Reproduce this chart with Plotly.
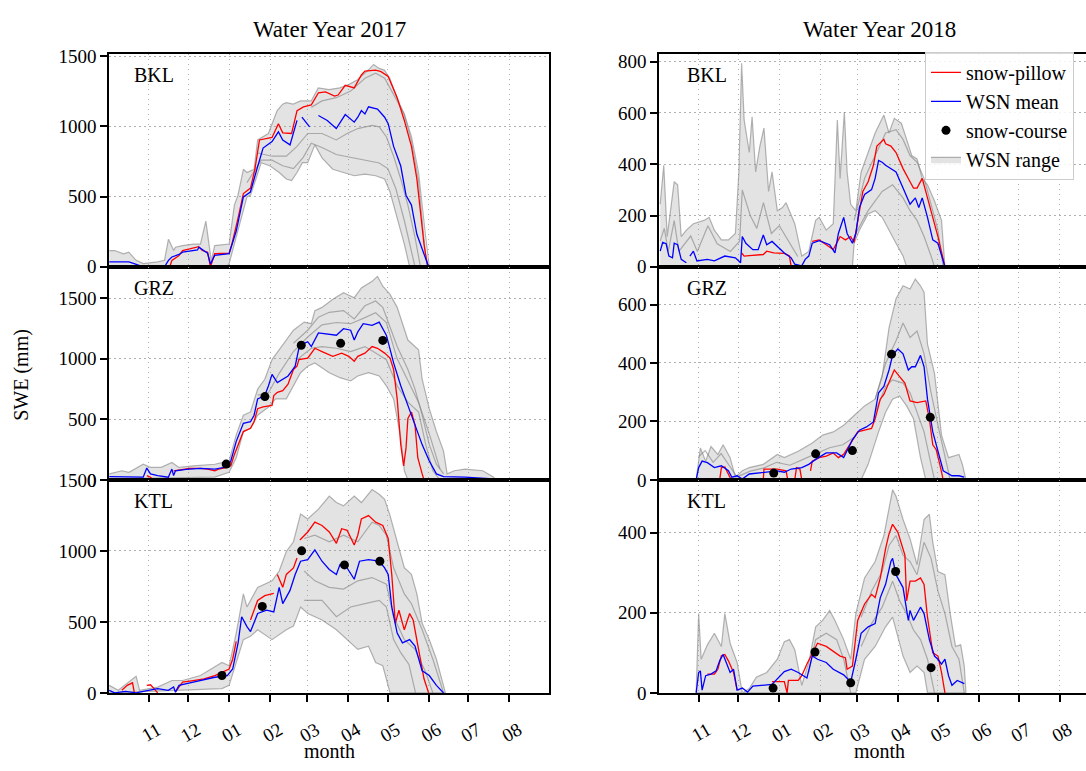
import plotly.graph_objects as go
import pandas as pd

# ---------------- data: (day of water year, SWE mm) ----------------
MONTH_TICKS = ["11", "12", "01", "02", "03", "04", "05", "06", "07", "08"]
STATIONS = ["BKL", "GRZ", "KTL"]
YEARS = ["Water Year 2017", "Water Year 2018"]

# ---- Water Year 2017 ----
BKL17_RED = [(47,0),(48.6,46),(54,81),(56.7,116),(62,127),(68.9,144),(71.6,116),(75.6,104),(77.8,0),(81,93),(91.9,97),(94,162),(98.7,348),(102.7,522),(108.1,561),(111.4,695),(114.9,904),(124.4,922),(129.2,1020),(132.5,955),(139.2,950),(143.3,1113),(148.2,1140),(154.1,1154),(159.5,1240),(164.9,1247),(171.7,1217),(174.4,1224),(179.8,1293),(186.6,1275),(192,1367),(194.7,1395),(202.8,1402),(206.9,1391),(212.3,1356),(219.1,1205),(224.5,1043),(229.9,858),(234,626),(236.7,394),(239.4,162),(242.1,0)]
BKL17_BLUE = [(1.2,35),(16,35),(20,23),(27,0),(43,0),(46,46),(48.6,70),(54,88),(56.7,104),(68,120),(69,139),(75.6,97),(77.8,20),(81,81),(91.9,93),(97.3,255),(102.7,498),(108,533),(112.2,672),(117.6,846),(124.4,892),(129.2,962),(132.5,904),(138,869),(143.3,1043),None,(147,1066),(152.8,997),None,(159.5,1078),(166.2,1043),(173,985),(179.8,1085),(186.6,1031),(189.3,1066),(192,1113),(194.7,1089),(197.4,1140),(204.2,1124),(209.6,1066),(212.3,1020),(216.4,858),(221.8,718),(225.8,510),(229.9,440),(234,232),(236.6,162),(240.7,46),(242.9,0)]
BKL17_HI = [(1.2,116),(5.3,116),(12,93),(16,104),(21.5,46),(27,23),(37.8,35),(43,46),(46,197),(50,116),(51.3,140),(56.7,151),(64.8,162),(70.2,162),(74.3,325),(78.4,42),(81,151),(91.9,162),(95.9,440),(98.6,510),(102.7,695),(105.4,672),(110.8,695),(113.5,904),(121.6,950),(128.3,1113),(132.4,1159),(135.1,1170),(140.5,1159),(145.9,1182),(154,1182),(159.4,1275),(167.5,1263),(175.6,1275),(182.4,1298),(189.1,1333),(197.2,1402),(201.3,1442),(205.4,1414),(209.4,1402),(213.5,1344),(218.9,1205),(224.3,1089),(229.7,904),(235.1,626),(237.8,348),(240.5,93),(242.7,0)]
BKL17_LO = [(1.2,0),(90,0),(91.9,23),(95.9,162),(100,300),(105.4,498),(108.1,510),(112.2,626),(116.2,742),(123,718),(129.8,672),(135.2,626),(139.2,614),(143.3,672),(147.4,742),(151.4,742),(156.8,869),(162.2,776),(170.3,695),(178.4,672),(186.6,649),(194.7,660),(202.8,649),(209.6,626),(213.7,533),(219.1,348),(224.5,162),(228.5,0),(242.7,0)]
BKL17_G1 = [(113.5,811),(124.4,788),(135.2,788),(143.3,858),(151.4,950),(162.2,950),(173,904),(181.2,950),(189.3,985),(200.1,1008),(205.5,997),(210.9,927),(216.4,788),(221.8,626),(227.2,440),(232.6,209),(236.7,0)]
BKL17_G2 = [(154.1,1136),(162.2,1182),(173,1205),(183.9,1252),(194.7,1344),(202.8,1379),(209.6,1344),(216.4,1228),(224.5,1089),(229.9,927),(235.3,672),(240.7,209),(243.4,0)]
BKL17_G3 = [(105.4,600),(116.2,760),(124.4,760),(132.5,720),(140.6,700),(148,780),(154.1,880),(162.2,850),(173,800),(183.9,780),(194.7,760),(205.5,740),(212,700),(218,560),(224.5,330),(229.9,120),(232.6,0)]
BKL17_DOTS = []

GRZ17_RED = [(29.6,35),(32.4,22),(33.7,8),None,(49.9,75),(56.7,89),(62.1,94),(70.2,94),(75.6,89),(81.1,75),(83.8,89),(90.5,103),(93.2,116),(95.9,210),(100,332),(102.7,399),(108.1,426),(110.8,480),(113.5,588),(117.6,602),(124.4,615),(125.7,696),(128.4,723),(132.5,737),(136.5,790),(140.6,912),(143.3,939),(144.7,993),(151.4,1006),(156.8,1087),(162.2,1060),(170.4,1020),(177.1,1047),(182.5,1020),(186.6,979),(189.3,1020),(194.7,1047),(200.1,1101),(204.2,1087),(209.6,1047),(213.7,1006),(216.4,912),(219.1,669),(221.8,291),(224,116),(225.8,264),(227.2,507),(229.9,561),(232.6,453),(234.7,183),(238,49),(239.4,0)]
GRZ17_BLUE = [(1.2,27),(16.1,22),(26.9,22),(29.6,97),(32.4,49),(37.8,35),(45.9,22),(48.6,89),(49.9,35),(51.3,75),(59.4,86),(70.2,94),(81.1,89),(90.5,108),(93.2,156),(97.3,318),(102.7,467),(108.1,480),(110.8,534),(113.5,669),(118.9,696),(121.7,777),(124.4,871),(128.4,804),(132.5,831),(136.5,858),(139.2,898),(141.9,939),(144.7,1087),(148.7,1128),(151.4,1141),(154.1,1101),(159.5,1214),(167.7,1203),(173.1,1195),(178.5,1249),(183.9,1236),(186.6,1155),(189.3,1222),(193.4,1290),(200.1,1276),(205.5,1303),(210.9,1195),(216.4,966),(221.8,777),(227.2,615),(232.6,453),(238,291),(243.4,156),(248.8,49),(254.2,27),(270.4,22),(292.1,8)]
GRZ17_HI = [(1.2,49),(10.7,75),(16.1,62),(26.9,129),(32.4,103),(40.5,103),(48.6,143),(54,103),(64.8,116),(81.1,129),(91.9,156),(97.3,372),(102.7,534),(108.1,561),(113.5,750),(118.9,831),(124.4,993),(129.8,1074),(135.2,1155),(140.6,1236),(148.7,1303),(154.1,1290),(156.8,1398),(162.2,1425),(170.4,1492),(178.5,1546),(186.6,1505),(192,1586),(200.1,1640),(204.2,1681),(208.2,1600),(213.7,1532),(219.1,1425),(227.2,1155),(235.3,1074),(238,831),(243.4,588),(248.8,399),(254.2,237),(256.9,49),(262.3,75),(270.4,89),(283.9,75),(292.1,22),(293,0)]
GRZ17_LO = [(1.2,8),(81.1,22),(91.9,62),(97.3,183),(102.7,399),(108.1,426),(113.5,534),(121.7,602),(127.1,669),(135.2,669),(140.6,777),(146,885),(151.4,939),(156.8,966),(167.7,885),(175.8,844),(183.9,817),(189.3,858),(197.4,885),(205.5,858),(210.9,777),(216.4,669),(221.8,345),(224.5,75),(227.2,0),(293,0)]
GRZ17_G1 = [(140.6,1128),(151.4,1236),(159.5,1344),(167.7,1384),(178.5,1398),(186.6,1330),(194.7,1438),(202.8,1478),(208.2,1425),(213.7,1263),(219.1,1101),(227.2,912),(232.6,750),(238,534),(243.4,291),(248.8,129),(254.2,49)]
GRZ17_G2 = [(143.3,993),(154.1,1087),(162.2,1101),(173.1,1087),(183.9,1060),(194.7,1101),(202.8,1047),(210.9,993),(219.1,777),(227.2,642),(235.3,561),(240.7,291),(246.1,75),(251.5,0)]
GRZ17_G3 = [(113.5,700),(121.7,720),(129.8,880),(140.6,1060),(151.4,1180),(162.2,1280),(173.1,1300),(183.9,1290),(194.7,1340),(202.8,1380),(210.9,1300),(219.1,1000),(227.2,820),(235.3,640),(243.4,380),(251.5,90)]
GRZ17_DOTS = [(89.7,130),(119,688),(146.5,1112),(176.3,1128),(208.2,1152)]

KTL17_RED = [(10.7,18),(14.8,53),(18.8,71),(20.2,0),None,(29.6,53),(32.4,57),(35.1,30),(37.8,0),None,(51.3,7),(56.7,76),(64.8,87),(72.9,99),(81.1,122),(86.5,145),(91.9,168),(94.6,237),(97.3,363),None,(108.1,513),(113.5,651),(118.9,685),(125.7,701),None,(128.4,834),(132.5,743),(135.2,834),(140.6,880),(143.3,949),None,(145.5,1076),(151.4,1133),(156.8,1202),(162.2,1179),(167.7,1133),(173.1,1053),(177.1,1156),(181.2,1145),(186.6,1041),(189.3,1110),(192,1225),(197.4,1248),(202.8,1202),(208.2,1179),(212.3,1087),(215,834),(217.7,490),(220.4,582),(224.5,444),(228.5,559),(231.2,513),(235.3,306),(239.4,99),(242.9,0)]
KTL17_BLUE = [(1.2,18),(5.3,0),(13.4,11),(21.5,0),(26.9,11),(32.4,18),(37.8,30),(45.9,18),(49.9,41),(51.3,5),(54,53),(64.8,76),(75.6,99),(81.1,110),(90.5,122),(94.6,168),(98.7,352),(101.4,536),(105.4,467),(108.1,432),(113.5,559),(120.3,582),(125.7,570),(129.8,743),(132.5,628),(137.9,720),(141.9,834),(146,927),(151.4,938),(156.8,1007),(162.2,927),(167.7,869),(173.1,834),(175.8,903),(181.2,880),(186.6,800),(190.6,927),(197.4,938),(205.5,927),(209.6,880),(212.3,834),(215,605),(219.1,421),(223.1,352),(228.5,375),(232.6,329),(238,156),(243.4,122),(248.8,53),(254.2,0)]
KTL17_HI = [(1.2,53),(8,18),(21.5,117),(24.2,18),(37.8,41),(48.6,87),(56.7,87),(70.2,122),(86.5,214),(91.9,191),(97.3,421),(102.7,697),(105.4,605),(113.5,743),(124.4,789),(129.8,858),(135.2,996),(140.6,1064),(146,1260),(151.4,1225),(159.5,1294),(167.7,1386),(173.1,1340),(178.5,1317),(186.6,1386),(192,1340),(200.1,1432),(205.5,1398),(209.6,1363),(213.7,1248),(219.1,1064),(224.5,881),(229.9,835),(234,697),(238,490),(243.4,375),(248.8,237),(254.2,53),(255.6,0)]
KTL17_LO = [(1.2,0),(86.5,30),(91.9,53),(97.3,214),(102.7,375),(108.1,398),(113.5,444),(124.4,375),(135.2,444),(140.6,470),(146,605),(151.4,559),(162.2,513),(173.1,444),(181.2,375),(189.3,306),(197.4,329),(202.8,214),(208.2,191),(213.7,0),(255.6,0)]
KTL17_G1 = [(148.7,1087),(156.8,1110),(167.7,1064),(178.5,1110),(189.3,1064),(200.1,1202),(205.5,1179),(210.9,1110),(216.4,881),(224.5,697),(229.9,628),(238,444),(246.1,237),(251.5,76),(254.2,0)]
KTL17_G2 = [(148.7,858),(156.8,789),(167.7,743),(178.5,731),(189.3,789),(200.1,812),(210.9,766),(216.4,536),(224.5,375),(232.6,306),(240.7,145),(246.1,0)]
KTL17_G3 = [(148.7,651),(162.2,651),(173.1,536),(183.9,605),(194.7,628),(205.5,651),(210.9,605),(216.4,375),(221.8,283),(228,200),(233,0)]
KTL17_DOTS = [(86.5,122),(117,609),(146.8,1000),(179.2,901),(206,927)]

# ---- Water Year 2018 ----
BKL18_RED = [(63.5,54),(65.4,42),(69.3,44),(79.9,48),(82.5,61),(87.8,54),(95.8,52),(99.7,42),(101,0),None,(116.9,99),(122.2,105),(127.5,86),(132.8,67),(135.4,92),(138,118),(142,105),(146,118),(148.6,95),(151.8,193),(155.2,294),(159.2,332),(163.2,396),(165.8,471),(168.4,484),(171.1,497),(172.4,480),(176.4,471),(180.3,446),(185.6,383),(190.9,332),(193.5,307),(196.2,307),(200.1,345),(204.1,269),(208.1,193),(212,118),(217.3,0)]
BKL18_BLUE = [(1.9,61),(3.8,95),(6.4,90),(8.5,42),(11.2,35),(12.5,92),(15.1,86),(17.8,29),(21.7,16),None,(24.4,42),(27,61),(29.7,23),(37.6,29),(42.9,23),(50.8,42),(58.8,35),(62.7,16),(64,118),(66.7,92),(72,67),(76,67),(79.9,124),(82.5,86),(86.5,99),(93.1,67),(95.8,54),(101,35),(103.7,10),(109,4),(111.6,29),(114.3,42),(116.9,92),(122.2,102),(130.1,86),(134.1,54),(136.7,130),(140.7,193),(143.3,130),(147.3,92),(149.9,130),(152.6,231),(156.5,282),(161.8,301),(164.5,345),(167.1,415),(169.8,408),(172.4,396),(176.4,383),(180.3,370),(185.6,307),(190.9,244),(194.9,269),(197.5,231),(200.1,269),(204.1,193),(208.1,105),(212,92),(217.3,0)]
BKL18_HI = [(1.9,244),(4.6,396),(7.2,118),(12.5,332),(15.1,320),(17.8,118),(21.7,143),(27,168),(35,181),(38.9,193),(42.9,143),(48.2,105),(53.5,105),(58.8,130),(61.4,370),(63.5,794),(65.4,573),(69.3,446),(71.4,585),(74.1,370),(77.3,471),(80.4,541),(83.9,294),(86.5,370),(90.5,219),(94.4,231),(97.1,250),(99.7,219),(103.7,168),(109,42),(114.3,60),(119.5,181),(122.2,193),(127.5,143),(132.8,168),(135.9,573),(138,345),(141.2,604),(143.3,370),(146,244),(149.9,219),(153.9,370),(159.2,446),(164.5,522),(171.1,592),(175,522),(179,579),(184.3,560),(188.3,497),(192.2,434),(196.2,421),(200.1,345),(204.1,320),(209.4,257),(214.7,181),(217.3,0)]
BKL18_LO = [(1.9,0),(147.3,0),(148.6,92),(152.6,143),(159.2,206),(164.5,219),(169.8,193),(175,143),(180.3,92),(185.6,42),(188.3,0),(217.3,0)]
BKL18_G1 = [(148.6,181),(156.5,345),(164.5,434),(172.4,522),(180.3,535),(185.6,497),(190.9,434),(196.2,408),(201.5,345),(206.8,244),(212,143),(216,0)]
BKL18_G2 = [(148.6,118),(159.2,219),(169.8,294),(177.7,320),(185.6,269),(190.9,219),(196.2,181),(201.5,118),(206.8,42),(209.4,0)]
BKL18_G3 = [(1.9,100),(5,150),(8,60),(12.5,180),(16,60),(25,120),(30,60),(38,160),(45,90),(55,60),(62,100),(64,300),(70,200),(75,150),(80,250),(86,130),(92,160),(100,90),(106,40)]
BKL18_DOTS = []

GRZ18_RED = [(46.9,0),(48.2,42),(50.8,44),(53.5,20),(55.6,0),None,(79.9,0),(80.4,37),(90.5,37),(97.1,31),(98.4,0),(103.7,0),(105,42),(107.6,37),(109,0),None,(115.6,31),(116.9,64),(122.2,76),(127.5,81),(132.8,92),(136.7,76),(140.7,87),(146,126),(151.3,164),(156.5,170),(161.8,176),(164.5,209),(168.4,276),(171.1,292),(175,331),(177.7,364),(179,376),(183,353),(187,331),(190.9,270),(196.2,264),(202.8,270),(205.5,209),(208.1,120),(210.7,103),(213.4,53),(216,0)]
GRZ18_BLUE = [(29.1,0),(31,42),(33.6,64),(37.6,59),(42.9,42),(48.2,48),(53.5,31),(56.1,9),(60.1,14),(64,3),(69.3,20),(79.9,26),(90.5,31),(95.8,26),(101,37),(109,42),(114.3,53),(119.5,70),(127.5,92),(135.4,92),(140.7,76),(147.3,137),(152.6,170),(157.9,181),(163.2,198),(167.1,298),(171.1,320),(175,376),(177.7,426),(181.7,448),(185.6,431),(189.6,376),(192.2,387),(194.9,387),(198.8,426),(201.5,387),(204.1,276),(208.1,164),(212,98),(216,31),(222.6,14),(227.9,14),(231.9,9)]
GRZ18_HI = [(29.1,0),(32.3,109),(36.3,64),(40.3,114),(45.5,87),(49.5,120),(54.8,76),(58.8,9),(64,31),(69.3,42),(79.9,53),(90.5,87),(95.8,76),(106.3,98),(116.9,126),(124.8,153),(132.8,164),(140.7,187),(148.6,220),(156.5,253),(164.5,276),(169.8,353),(175,520),(180.3,620),(185.6,664),(190.9,653),(194.9,687),(198.8,664),(201.5,642),(204.1,464),(209.4,364),(214.7,153),(220,76),(227.9,87),(230.5,53),(233.2,0)]
GRZ18_LO = [(29.1,0),(153.9,0),(159.2,53),(167.1,164),(172.4,231),(177.7,276),(183,287),(188.3,253),(193.5,209),(198.8,76),(202.8,0),(233.2,0)]
GRZ18_G1 = [(164.5,276),(172.4,398),(180.3,476),(185.6,537),(190.9,487),(196.2,509),(201.5,431),(206.8,298),(212,187),(217.3,76),(221.3,0)]
GRZ18_G2 = [(164.5,231),(172.4,320),(177.7,342),(185.6,331),(190.9,298),(196.2,231),(201.5,164),(206.8,53),(209.4,0)]
GRZ18_G3 = [(31,80),(36,100),(42,60),(48,90),(54,50),(60,10),(70,30),(80,40),(90,60),(100,50),(110,70),(120,90),(130,110),(140,120),(150,150)]
GRZ18_DOTS = [(87.8,23),(119.5,89),(147.3,100),(176.9,430),(206.2,214)]

KTL18_RED = [(37.6,47),(42.9,47),(45.5,59),(48.2,93),(50.8,96),(53.5,80),(57.4,51),(60.1,7),None,(86.5,28),(95.8,28),(97.9,0),(98.9,31),(106.3,31),(109,43),(112.9,72),(116.9,100),(120.9,124),(127.5,116),(132.8,104),(138,92),(142,88),(143.3,59),(147.3,67),(151.3,181),(156.5,222),(161.8,246),(164.5,238),(168.4,287),(172.4,360),(175,397),(177.7,421),(181.7,401),(187,344),(188.3,230),(190.9,279),(194.9,279),(198.8,287),(201.5,271),(204.1,189),(208.1,100),(212,92),(214.7,51),(217.3,0)]
KTL18_BLUE = [(29.1,0),(31,51),(32.3,55),(33.6,7),(36.3,43),(40.3,47),(44.2,55),(46.9,80),(49.5,96),(52.1,76),(54.8,51),(57.4,59),(60.1,7),(64,12),(68,2),(72,17),(79.9,19),(86.5,21),(95.8,53),(101,59),(106.3,51),(112.9,37),(116.9,92),(120.9,84),(127.5,76),(132.8,59),(140.7,45),(146,27),(149.9,84),(153.9,149),(159.2,165),(164.5,173),(168.4,238),(172.4,271),(176.4,328),(177.7,336),(180.3,295),(185.6,263),(189.6,181),(190.9,206),(193.5,181),(196.2,198),(198.8,214),(201.5,198),(205.5,133),(209.4,92),(212,84),(214.7,72),(217.3,84),(220,43),(222.6,19),(226.6,31),(231.9,23)]
KTL18_HI = [(29.1,0),(31,198),(32.9,84),(37.6,120),(42.9,149),(48.2,116),(50.8,198),(54.8,124),(60.1,76),(64,0),(69.3,11),(74.6,39),(82.5,51),(90.5,84),(95.8,128),(99.7,133),(103.7,108),(109,19),(114.3,76),(119.5,165),(124.8,181),(130.1,206),(134.1,181),(140.7,133),(146,84),(149.9,198),(156.5,287),(164.5,328),(171.1,393),(175,466),(177.7,507),(180.3,491),(185.6,433),(190.9,385),(196.2,320),(201.5,433),(205.5,446),(208.1,376),(212,303),(217.3,295),(221.3,198),(225.3,116),(229.2,120),(231.9,67),(233.2,0)]
KTL18_LO = [(29.1,0),(149.9,0),(156.5,84),(164.5,116),(172.4,165),(177.7,189),(185.6,92),(190.9,51),(196.2,67),(201.5,51),(204.1,0),(233.2,0)]
KTL18_G1 = [(153.9,189),(161.8,254),(169.8,303),(175,368),(180.3,393),(185.6,344),(190.9,328),(196.2,295),(201.5,376),(206.8,336),(212,254),(217.3,198),(222.6,116),(227.9,84),(231.9,0)]
KTL18_G2 = [(153.9,116),(161.8,173),(169.8,214),(177.7,279),(183,230),(188.3,198),(193.5,157),(198.8,133),(204.1,84),(209.4,0)]
KTL18_G3 = [(114.3,51),(119.5,133),(127.5,149),(135.4,133),(140.7,84),(146,0)]
KTL18_DOTS = [(87.3,12),(119,102),(146,25),(180,303),(206.8,63)]

WY_START = ["2016-10-01", "2017-10-01"]
X_RANGE = [["2016-10-02", "2017-08-31"], ["2017-10-02", "2018-08-21"]]
Y_RANGE = {("BKL", 0): 1518, ("GRZ", 0): 1760, ("KTL", 0): 1500,
           ("BKL", 1): 831, ("GRZ", 1): 729, ("KTL", 1): 532}
Y_TICKS = {("BKL", 0): [0, 500, 1000, 1500], ("GRZ", 0): [0, 500, 1000, 1500],
           ("KTL", 0): [0, 500, 1000, 1500], ("BKL", 1): [0, 200, 400, 600, 800],
           ("GRZ", 1): [0, 200, 400, 600], ("KTL", 1): [0, 200, 400]}

PANELS = {
    ("BKL", 0): dict(red=BKL17_RED, blue=BKL17_BLUE, hi=BKL17_HI, lo=BKL17_LO, grays=[BKL17_G1, BKL17_G2, BKL17_G3], dots=BKL17_DOTS),
    ("GRZ", 0): dict(red=GRZ17_RED, blue=GRZ17_BLUE, hi=GRZ17_HI, lo=GRZ17_LO, grays=[GRZ17_G1, GRZ17_G2, GRZ17_G3], dots=GRZ17_DOTS),
    ("KTL", 0): dict(red=KTL17_RED, blue=KTL17_BLUE, hi=KTL17_HI, lo=KTL17_LO, grays=[KTL17_G1, KTL17_G2, KTL17_G3], dots=KTL17_DOTS),
    ("BKL", 1): dict(red=BKL18_RED, blue=BKL18_BLUE, hi=BKL18_HI, lo=BKL18_LO, grays=[BKL18_G1, BKL18_G2, BKL18_G3], dots=BKL18_DOTS),
    ("GRZ", 1): dict(red=GRZ18_RED, blue=GRZ18_BLUE, hi=GRZ18_HI, lo=GRZ18_LO, grays=[GRZ18_G1, GRZ18_G2, GRZ18_G3], dots=GRZ18_DOTS),
    ("KTL", 1): dict(red=KTL18_RED, blue=KTL18_BLUE, hi=KTL18_HI, lo=KTL18_LO, grays=[KTL18_G1, KTL18_G2, KTL18_G3], dots=KTL18_DOTS),
}

# ---------------- layout constants ----------------
W, H = 1086, 771
FONT = "Liberation Serif"
X_DOM = [[109 / W, 549 / W], [659 / W, 1.0]]
ROW_PX = [(45, 264), (264, 483), (483, 702)]
GRID = "#b0b0b0"
GRID_DASH = "1.5px,3.5px"
GRAYLINE = "rgba(120,120,120,0.55)"
FILL = "rgba(150,150,150,0.27)"
TICK_SIZE = 19


def xy(pairs, base):
    b = pd.Timestamp(base)
    xs, ys = [], []
    for p in pairs:
        if p is None:
            xs.append(None)
            ys.append(None)
        else:
            xs.append(b + pd.Timedelta(days=p[0]))
            ys.append(p[1])
    return xs, ys


fig = go.Figure()
layout = {}

for r, st in enumerate(STATIONS):
    for c in range(2):
        idx = r * 2 + c + 1
        sfx = "" if idx == 1 else str(idx)
        xa, ya = "x" + sfx, "y" + sfx
        base = WY_START[c]
        d = PANELS[(st, c)]
        leg = (st == "BKL" and c == 1)

        hx, hy = xy(d["hi"], base)
        lx, ly = xy(d["lo"], base)
        fig.add_trace(go.Scatter(
            x=hx + lx[::-1], y=hy + ly[::-1], xaxis=xa, yaxis=ya,
            fill="toself", fillcolor=FILL, mode="lines",
            line=dict(width=1.2, color=GRAYLINE),
            name="WSN range", showlegend=leg, legendrank=4, legendgroup="d",
            hoverinfo="skip"))
        for g in d["grays"]:
            gx, gy = xy(g, base)
            fig.add_trace(go.Scatter(x=gx, y=gy, xaxis=xa, yaxis=ya, mode="lines",
                                     line=dict(width=1.2, color=GRAYLINE),
                                     showlegend=False, hoverinfo="skip"))
        rx, ry = xy(d["red"], base)
        fig.add_trace(go.Scatter(x=rx, y=ry, xaxis=xa, yaxis=ya, mode="lines",
                                 line=dict(width=1.3, color="#ff0000"),
                                 name="snow-pillow", showlegend=leg, legendrank=1,
                                 legendgroup="a"))
        bx, by = xy(d["blue"], base)
        fig.add_trace(go.Scatter(x=bx, y=by, xaxis=xa, yaxis=ya, mode="lines",
                                 line=dict(width=1.3, color="#0000ff"),
                                 name="WSN mean", showlegend=leg, legendrank=2,
                                 legendgroup="b"))
        if d["dots"] or leg:
            if d["dots"]:
                dx, dy = xy(d["dots"], base)
            else:
                dx, dy = [None], [None]
            fig.add_trace(go.Scatter(x=dx, y=dy, xaxis=xa, yaxis=ya, mode="markers",
                                     marker=dict(size=9, color="black"),
                                     name="snow-course", showlegend=leg, legendrank=3,
                                     legendgroup="c"))

        top, bot = ROW_PX[r]
        ydom = [1 - bot / H, 1 - top / H]
        tickmonths = pd.date_range(pd.Timestamp(base) + pd.DateOffset(months=1), periods=10, freq="MS")
        last = (r == 2)
        layout["xaxis" + sfx] = dict(
            domain=X_DOM[c], anchor=ya, type="date", range=X_RANGE[c],
            tickvals=list(tickmonths), ticktext=MONTH_TICKS,
            showticklabels=last, ticks="outside" if last else "", ticklen=7, tickwidth=1.5,
            tickcolor="black", tickangle=-30,
            showgrid=True, gridcolor=GRID, griddash=GRID_DASH, gridwidth=1.4,
            showline=True, linecolor="black", linewidth=1.5, mirror=True,
            zeroline=False, tickfont=dict(size=TICK_SIZE, family=FONT, color="black"),
            ticklabelstandoff=10, ticklabelshift=9,
        )
        layout["yaxis" + sfx] = dict(
            domain=ydom, anchor=xa, range=[0, Y_RANGE[(st, c)]],
            tickvals=Y_TICKS[(st, c)], ticks="outside", ticklen=7, tickwidth=1.5,
            tickcolor="black", showgrid=True, gridcolor=GRID, griddash=GRID_DASH, gridwidth=1.4,
            showline=True, linecolor="black", linewidth=1.5, mirror=(c == 0),
            zeroline=False, tickfont=dict(size=TICK_SIZE, family=FONT, color="black"),
        )

annotations = []
lab_x = [132 / W, 685 / W]
for r, st in enumerate(STATIONS):
    top, _ = ROW_PX[r]
    for c in range(2):
        annotations.append(dict(text=st, xref="paper", yref="paper", x=lab_x[c],
                                y=1 - (top + 22) / H, xanchor="left", yanchor="middle",
                                showarrow=False, font=dict(size=20, family=FONT, color="black")))
title_x = [329 / W, 879 / W]
for c in range(2):
    annotations.append(dict(text=YEARS[c], xref="paper", yref="paper", x=title_x[c],
                            y=1 - 20 / H, xanchor="center", yanchor="middle", showarrow=False,
                            font=dict(size=23, family=FONT, color="black")))
    annotations.append(dict(text="month", xref="paper", yref="paper", x=title_x[c],
                            y=1 - 762 / H, xanchor="center", yanchor="middle", showarrow=False,
                            font=dict(size=20, family=FONT, color="black")))
annotations.append(dict(text="SWE (mm)", xref="paper", yref="paper", x=22 / W, y=1 - 375 / H,
                        xanchor="center", yanchor="middle", textangle=-90, showarrow=False,
                        font=dict(size=20, family=FONT, color="black")))

fig.update_layout(
    **layout,
    width=W, height=H, margin=dict(l=0, r=0, t=0, b=0),
    plot_bgcolor="white", paper_bgcolor="white",
    font=dict(family=FONT, size=TICK_SIZE, color="black"),
    annotations=annotations,
    legend=dict(x=925 / W, y=1 - 43 / H, xanchor="left", yanchor="top",
                bgcolor="rgba(255,255,255,0.85)", bordercolor="#cccccc", borderwidth=1,
                font=dict(size=20, family=FONT, color="black"),
                tracegroupgap=0, traceorder="grouped"),
    hovermode=False,
)

fig.write_html("out.html")
